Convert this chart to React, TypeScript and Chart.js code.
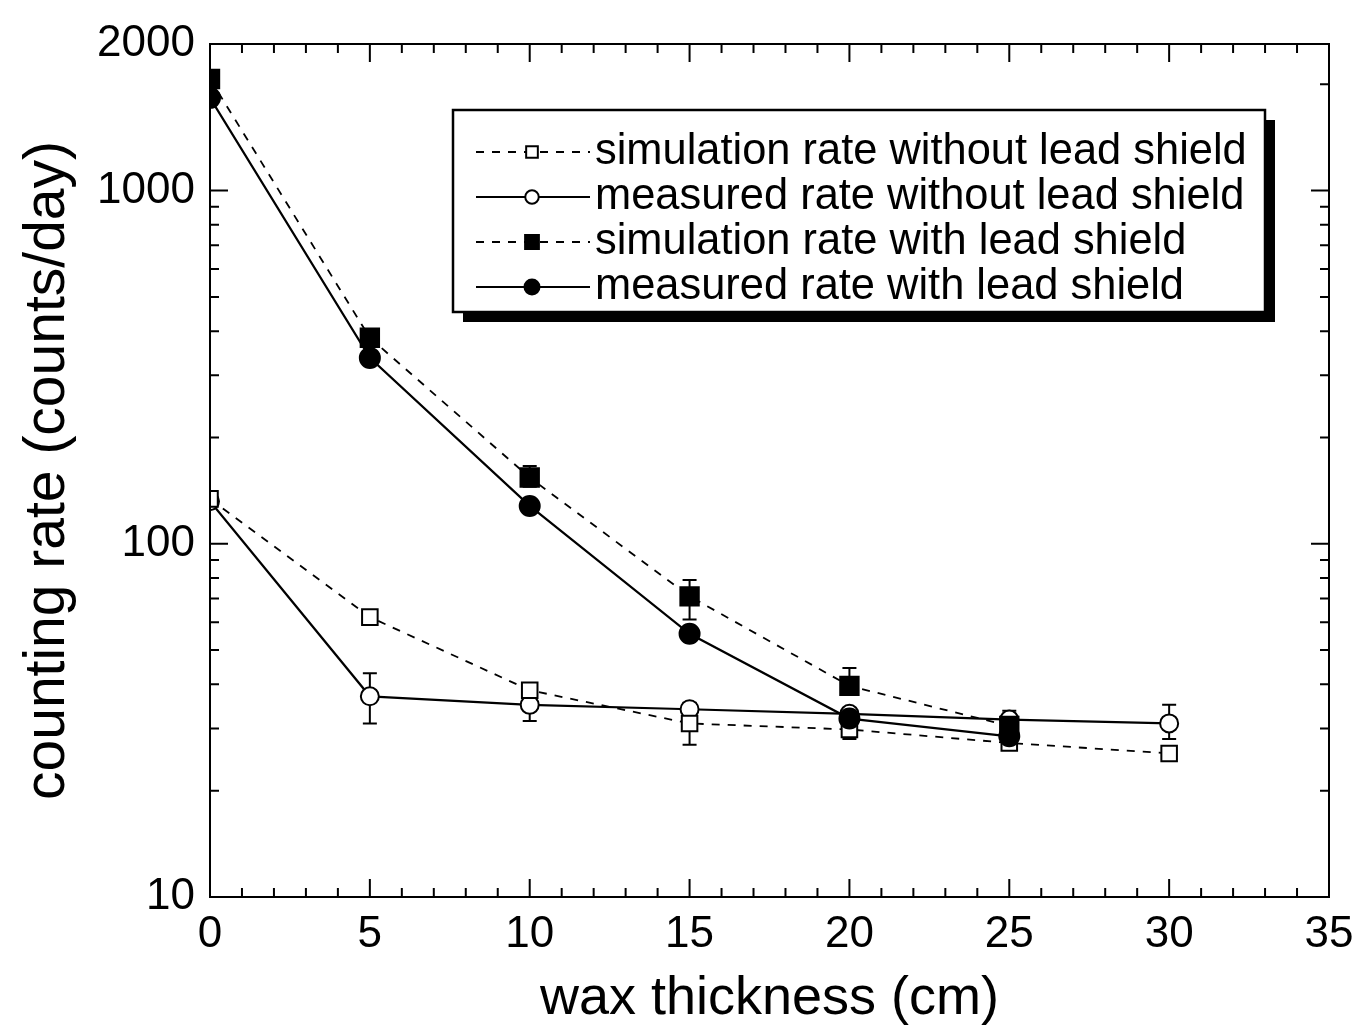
import React, { useEffect, useRef } from 'react';
import { Chart, registerables } from 'chart.js';
Chart.register(...registerables);

// ---------- data ----------
const thickness = [0, 5, 10, 15, 20, 25, 30];
const simNoLead = [134, 62, 38.5, 31, 29.8, 27.3, 25.5];
const measNoLead = [132, 37, 35, 34, 33, 31.8, 31];
const simLead = [2070, 383, 154, 71, 39.6, 30.5];
const measLead = [1830, 336, 128, 55.6, 32, 28.5];

const simNoLeadLow = [null, null, null, null, null, null, null];
const simNoLeadHigh = [null, null, null, null, null, null, null];
const measNoLeadLow = [null, 31, 31.5, 27, 28.5, null, 28];
const measNoLeadHigh = [null, 43, 40, 35.5, 34, null, 35];
const simLeadLow = [null, null, 145, 61, 37.5, 27];
const simLeadHigh = [null, null, 166, 79, 44.5, 33.7];
const measLeadLow = [null, null, null, null, 28, 26.5];
const measLeadHigh = [null, null, null, null, 33, 31];

const seriesLabels = [
  'simulation rate without lead shield',
  'measured rate without lead shield',
  'simulation rate with lead shield',
  'measured rate with lead shield',
];

const xTickValues = [0, 5, 10, 15, 20, 25, 30, 35];
const yTickValues = [10, 100, 1000, 2600];
const yTickLabels = ['10', '100', '1000', '2000'];
const yMin = 10;
const yMax = 2600;
const xMin = 0;
const xMax = 35;

const FONT = '"Liberation Sans", Arial, Helvetica, sans-serif';

function pts(ys: number[]) {
  return ys.map((y, i) => ({ x: thickness[i], y }));
}

function drawMarker(ctx: CanvasRenderingContext2D, style: string, x: number, y: number, r: number, fill: string, lw: number) {
  ctx.save();
  ctx.beginPath();
  if (style === 'rect') {
    const s = r * Math.SQRT1_2;
    ctx.rect(x - s, y - s, 2 * s, 2 * s);
  } else {
    ctx.arc(x, y, r, 0, Math.PI * 2);
  }
  ctx.fillStyle = fill;
  ctx.fill();
  ctx.lineWidth = lw;
  ctx.strokeStyle = '#000';
  ctx.setLineDash([]);
  ctx.stroke();
  ctx.restore();
}

const errLows = [simNoLeadLow, measNoLeadLow, simLeadLow, measLeadLow];
const errHighs = [simNoLeadHigh, measNoLeadHigh, simLeadHigh, measLeadHigh];

const decoPlugin = {
  id: 'deco',
  beforeDatasetsDraw(chart: any) {
    const ctx = chart.ctx as CanvasRenderingContext2D;
    const xs = chart.scales.x;
    const ys = chart.scales.y;
    ctx.save();
    ctx.strokeStyle = '#000';
    ctx.lineWidth = 2;
    ctx.setLineDash([]);
    errLows.forEach((lows, si) => {
      const highs = errHighs[si];
      lows.forEach((lo, i) => {
        const hi = highs[i];
        if (lo == null || hi == null) return;
        const px = xs.getPixelForValue(thickness[i]);
        const p1 = ys.getPixelForValue(lo);
        const p2 = ys.getPixelForValue(hi);
        ctx.beginPath();
        ctx.moveTo(px, p1);
        ctx.lineTo(px, p2);
        ctx.moveTo(px - 7, p1);
        ctx.lineTo(px + 7, p1);
        ctx.moveTo(px - 7, p2);
        ctx.lineTo(px + 7, p2);
        ctx.stroke();
      });
    });
    ctx.restore();
  },
  afterDatasetsDraw(chart: any) {
    const ctx = chart.ctx as CanvasRenderingContext2D;
    const { left, right, top, bottom } = chart.chartArea;
    const xs = chart.scales.x;
    const ys = chart.scales.y;
    ctx.save();
    ctx.strokeStyle = '#000';
    ctx.lineWidth = 2;
    ctx.setLineDash([]);
    ctx.strokeRect(left, top, right - left, bottom - top);
    // inward ticks x
    ctx.beginPath();
    for (let v = xMin; v <= xMax; v += 1) {
      const px = xs.getPixelForValue(v);
      const len = v % 5 === 0 ? 18 : 9;
      ctx.moveTo(px, bottom);
      ctx.lineTo(px, bottom - len);
      ctx.moveTo(px, top);
      ctx.lineTo(px, top + len);
    }
    // inward ticks y
    for (let d = 10; d <= 1000; d *= 10) {
      for (let m = 1; m <= 9; m++) {
        const v = d * m;
        if (v < yMin || v > yMax) continue;
        const py = ys.getPixelForValue(v);
        const len = m === 1 ? 18 : 9;
        ctx.moveTo(left, py);
        ctx.lineTo(left + len, py);
        ctx.moveTo(right, py);
        ctx.lineTo(right - len, py);
      }
    }
    ctx.stroke();

    // legend
    const bx = 453, by = 110, bw = 812, bh = 202, sh = 10;
    ctx.fillStyle = '#000';
    ctx.fillRect(bx + sh, by + sh, bw, bh);
    ctx.fillStyle = '#fff';
    ctx.fillRect(bx, by, bw, bh);
    ctx.lineWidth = 2.5;
    ctx.strokeRect(bx, by, bw, bh);
    const ds = chart.data.datasets;
    ds.forEach((d: any, i: number) => {
      const ry = 152 + i * 45;
      ctx.save();
      ctx.strokeStyle = '#000';
      ctx.lineWidth = d.borderWidth;
      ctx.setLineDash(d.borderDash || []);
      ctx.beginPath();
      ctx.moveTo(476, ry);
      ctx.lineTo(590, ry);
      ctx.stroke();
      ctx.restore();
      drawMarker(ctx, d.pointStyle, 532, ry, d.pointRadius * 0.75, d.pointBackgroundColor, d.pointBorderWidth);
      ctx.save();
      ctx.fillStyle = '#000';
      ctx.font = `45px ${FONT}`;
      ctx.textBaseline = 'middle';
      ctx.textAlign = 'left';
      ctx.translate(595, ry);
      ctx.scale(0.965, 1);
      ctx.fillText(d.label, 0, 0);
      ctx.restore();
    });
    ctx.restore();
  },
};

export default function App() {
  const ref = useRef<HTMLCanvasElement | null>(null);
  useEffect(() => {
    document.body.style.margin = '0';
    const canvas = ref.current;
    if (!canvas) return;
    const common = {
      borderColor: '#000',
      borderWidth: 2.2,
      pointBorderColor: '#000',
      pointBorderWidth: 2,
      tension: 0,
      fill: false,
    };
    const chart = new Chart(canvas, {
      type: 'line',
      data: {
        datasets: [
          { ...common, order: 2, label: seriesLabels[0], data: pts(simNoLead), borderDash: [8, 8], borderWidth: 1.8, pointStyle: 'rect', pointRadius: 11, pointBackgroundColor: '#fff' },
          { ...common, order: 3, label: seriesLabels[1], data: pts(measNoLead), pointStyle: 'circle', pointRadius: 9, pointBackgroundColor: '#fff' },
          { ...common, order: 0, label: seriesLabels[2], data: pts(simLead), borderDash: [8, 8], borderWidth: 1.8, pointStyle: 'rect', pointRadius: 13, pointBackgroundColor: '#000' },
          { ...common, order: 1, label: seriesLabels[3], data: pts(measLead), pointStyle: 'circle', pointRadius: 10, pointBackgroundColor: '#000' },
        ] as any,
      },
      options: {
        animation: false,
        responsive: true,
        maintainAspectRatio: false,
        layout: { padding: { top: 44, right: 37, left: 0, bottom: 0 } },
        plugins: { legend: { display: false }, tooltip: { enabled: false } },
        scales: {
          x: {
            type: 'linear',
            min: xMin,
            max: xMax,
            afterBuildTicks: (s: any) => { s.ticks = xTickValues.map((v) => ({ value: v })); },
            ticks: { font: { size: 44, family: FONT }, color: '#000', padding: 11, autoSkip: false, maxRotation: 0 },
            grid: { display: false, drawTicks: false },
            border: { display: false },
            title: { display: true, text: 'wax thickness (cm)', color: '#000', font: { size: 54, family: FONT, lineHeight: 1.2 }, padding: { top: 0, bottom: 3 } },
            afterFit: (s: any) => { s.height = 138; },
          },
          y: {
            type: 'logarithmic',
            min: yMin,
            max: yMax,
            afterBuildTicks: (s: any) => { s.ticks = yTickValues.map((v) => ({ value: v })); },
            ticks: { font: { size: 44, family: FONT }, color: '#000', padding: 15, autoSkip: false, callback: (_v: any, i: number) => yTickLabels[i] },
            grid: { display: false, drawTicks: false },
            border: { display: false },
            title: { display: true, text: 'counting rate (counts/day)', color: '#000', font: { size: 57, family: FONT, lineHeight: 1.2 }, padding: { top: 14, bottom: 0 } },
            afterFit: (s: any) => { s.width = 210; },
          },
        },
      } as any,
      plugins: [decoPlugin],
    });
    return () => chart.destroy();
  }, []);
  return (
    <div style={{ position: 'absolute', left: 0, top: 0, width: 1366, height: 1035, background: '#fff' }}>
      <canvas ref={ref} />
    </div>
  );
}
